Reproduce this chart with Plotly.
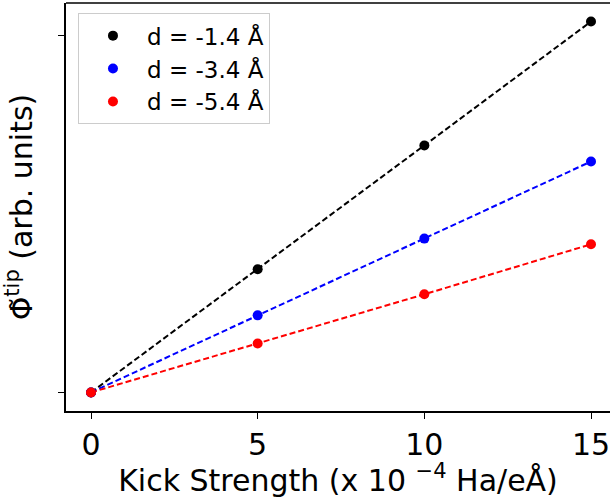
import plotly.graph_objects as go

# Kick strength (x 10^-4 Ha/eÅ)
kick = [0, 5, 10, 15]

# Induced tip potential (arb. units) for each tip distance
phi_d14 = [0.0, 0.345, 0.692, 1.039]
phi_d34 = [0.0, 0.216, 0.431, 0.647]
phi_d54 = [0.0, 0.137, 0.275, 0.415]

labels = ["d = -1.4 Å", "d = -3.4 Å", "d = -5.4 Å"]
colors = ["black", "blue", "red"]
series = [phi_d14, phi_d34, phi_d54]

x_ticks = [0, 5, 10, 15]
y_ticks = [0, 1]

fig = go.Figure()

# dashed guide lines through each series
for vals, c in zip(series, colors):
    fig.add_trace(go.Scatter(
        x=kick, y=vals, mode="lines",
        line=dict(color=c, width=2, dash="6px,3px"),
        showlegend=False, hoverinfo="skip",
    ))

# data points
for vals, c, lab in zip(series, colors, labels):
    fig.add_trace(go.Scatter(
        x=kick, y=vals, mode="markers", name=lab, legendgroup=lab,
        marker=dict(color=c, size=10),
    ))

font_family = "DejaVu Sans"

fig.update_layout(
    width=610, height=498,
    margin=dict(l=66, r=0, t=3, b=87),
    plot_bgcolor="white", paper_bgcolor="white",
    font=dict(family=font_family, color="black", size=30),
    legend=dict(
        x=0.022, y=0.975, xanchor="left", yanchor="top",
        bgcolor="white", bordercolor="#cccccc", borderwidth=1,
        font=dict(size=23, family=font_family),
        itemwidth=58, tracegroupgap=0,
    ),
    xaxis=dict(
        range=[-0.75, 15.57],
        tickvals=x_ticks, ticktext=[str(v) for v in x_ticks],
        ticks="outside", ticklen=6, tickwidth=1.2, tickcolor="black",
        showline=True, linecolor="black", linewidth=1.5,
        showgrid=False, zeroline=False,
        tickfont=dict(size=30), ticklabeloverflow="allow",
        title=dict(text="Kick Strength (x 10 <sup>−4</sup> Ha/eÅ)",
                   font=dict(size=30), standoff=5),
    ),
    yaxis=dict(
        range=[-0.052, 1.091],
        tickvals=y_ticks, ticktext=["", ""],
        ticks="outside", ticklen=6, tickwidth=1.2, tickcolor="black",
        showline=True, linecolor="black", linewidth=1.5,
        showgrid=False, zeroline=False,
        title=dict(text="Φ̃<sup>tip</sup> (arb. units)",
                   font=dict(size=30), standoff=12),
    ),
)

# top spine
fig.add_shape(type="line", xref="paper", yref="paper",
              x0=0, x1=1, y0=1, y1=1,
              line=dict(color="black", width=1.5))

fig.write_html("out.html")
